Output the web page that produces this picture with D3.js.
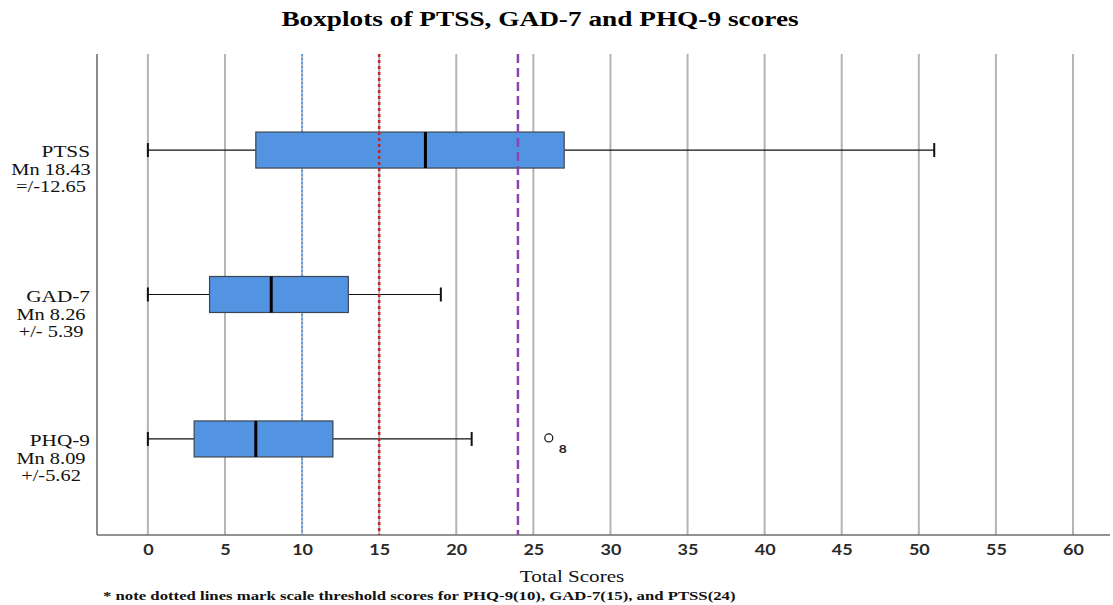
<!DOCTYPE html>
<html>
<head>
<meta charset="utf-8">
<script src="https://cdn.jsdelivr.net/npm/d3@7"></script>
<style>
  body { margin: 0; background: #fff; }
  svg { display: block; }
</style>
</head>
<body>
<div class="container"></div>
<script>
window.onload = () => {

  const scales = ['PTSS', 'GAD-7', 'PHQ-9'];
  const meanLabels = ['Mn 18.43', 'Mn 8.26', 'Mn 8.09'];
  const sdLabels = ['=/-12.65', '+/- 5.39', '+/-5.62'];
  const mins = [0, 0, 0];
  const q1s = [7, 4, 3];
  const medians = [18, 8, 7];
  const q3s = [27, 13, 12];
  const maxs = [51, 19, 21];
  const outlierScales = ['PHQ-9'];
  const outlierValues = [26];
  const outlierCases = ['8'];
  const thresholdValues = [10, 15, 24];
  const thresholdColors = ['#5f9fe6', '#c0272d', '#8e44b0'];
  const thresholdDashes = ['2,2', '3,3', '9,5'];
  const xTicks = [0, 5, 10, 15, 20, 25, 30, 35, 40, 45, 50, 55, 60];

  const width = 1113;
  const height = 605;
  const left = 97, right = 1110, top = 54, bottom = 535;
  const serif = '"Liberation Serif", "Times New Roman", serif';

  const svg = d3.select('.container')
    .append('svg')
    .attr('width', width)
    .attr('height', height);

  const x = d3.scaleLinear().domain([-3.3, 62.4]).range([left, right]);
  const y = d3.scalePoint().domain(scales).range([top, bottom]).padding(0.665);

  const boxH = 36;
  const capH = 14;

  // text that is a bit stretched sideways, like the original export
  function wideText(parent, tx, ty, sx, str) {
    return parent.append('text')
      .attr('transform', `translate(${tx},${ty}) scale(${sx},1)`)
      .text(str);
  }

  // Title
  wideText(svg, 540, 26, 1.3, 'Boxplots of PTSS, GAD-7 and PHQ-9 scores')
    .attr('text-anchor', 'middle')
    .style('font-family', serif)
    .style('font-weight', 'bold')
    .style('font-size', '21px');

  // Grid lines
  svg.append('g')
    .selectAll('line')
    .data(xTicks)
    .enter()
    .append('line')
    .attr('x1', d => x(d))
    .attr('x2', d => x(d))
    .attr('y1', top)
    .attr('y2', bottom)
    .attr('stroke', '#b4b4b4')
    .attr('stroke-width', 2);

  // Left frame line
  svg.append('line')
    .attr('x1', left).attr('x2', left)
    .attr('y1', top).attr('y2', bottom)
    .attr('stroke', '#8c8c8c')
    .attr('stroke-width', 2);

  // Bottom axis
  const axis = svg.append('g')
    .attr('transform', `translate(0, ${bottom})`)
    .call(d3.axisBottom(x).tickValues(xTicks).tickSize(0).tickPadding(9));
  axis.select('.domain').remove();
  axis.selectAll('text')
    .attr('transform', 'scale(1.2,1)')
    .style('font-family', 'Lato, "Open Sans", sans-serif')
    .style('font-size', '15px')
    .style('font-weight', 'bold')
    .attr('fill', '#2a2a2a');
  svg.append('line')
    .attr('x1', left).attr('x2', right)
    .attr('y1', bottom).attr('y2', bottom)
    .attr('stroke', '#6e6e6e')
    .attr('stroke-width', 1.5);

  // Blue threshold sits under the boxes
  const drawThreshold = i => {
    svg.append('line')
      .attr('x1', x(thresholdValues[i]))
      .attr('x2', x(thresholdValues[i]))
      .attr('y1', top)
      .attr('y2', bottom)
      .attr('stroke', thresholdColors[i])
      .attr('stroke-width', i === 0 ? 2 : 2.5)
      .attr('stroke-dasharray', thresholdDashes[i]);
  };
  drawThreshold(0);

  // Boxplots
  const g = svg.append('g');
  scales.forEach((s, i) => {
    const cy = y(s);
    g.append('line')
      .attr('x1', x(mins[i])).attr('x2', x(q1s[i]))
      .attr('y1', cy).attr('y2', cy)
      .attr('stroke', '#111').attr('stroke-width', 1.2);
    g.append('line')
      .attr('x1', x(q3s[i])).attr('x2', x(maxs[i]))
      .attr('y1', cy).attr('y2', cy)
      .attr('stroke', '#111').attr('stroke-width', 1.2);
    [mins[i], maxs[i]].forEach(v => {
      g.append('line')
        .attr('x1', x(v)).attr('x2', x(v))
        .attr('y1', cy - capH / 2).attr('y2', cy + capH / 2)
        .attr('stroke', '#111').attr('stroke-width', 2);
    });
    g.append('rect')
      .attr('x', x(q1s[i]))
      .attr('y', cy - boxH / 2)
      .attr('width', x(q3s[i]) - x(q1s[i]))
      .attr('height', boxH)
      .attr('fill', '#5294e2')
      .attr('stroke', '#3c4650')
      .attr('stroke-width', 1.2);
    g.append('line')
      .attr('x1', x(medians[i])).attr('x2', x(medians[i]))
      .attr('y1', cy - boxH / 2).attr('y2', cy + boxH / 2)
      .attr('stroke', '#000').attr('stroke-width', 3);
  });

  drawThreshold(1);
  drawThreshold(2);

  // Outliers
  outlierScales.forEach((s, i) => {
    svg.append('circle')
      .attr('cx', x(outlierValues[i]))
      .attr('cy', y(s) - 1)
      .attr('r', 4)
      .attr('fill', 'none')
      .attr('stroke', '#111')
      .attr('stroke-width', 1.2);
    wideText(svg, x(outlierValues[i]) + 10, y(s) + 14, 1.15, outlierCases[i])
      .style('font-family', 'Lato, sans-serif')
      .style('font-size', '12px')
      .style('font-weight', 'bold')
      .attr('fill', '#222');
  });

  // Category labels
  const labels = svg.append('g')
    .style('font-family', serif)
    .style('font-size', '17px')
    .attr('fill', '#111');
  scales.forEach((s, i) => {
    const cy = y(s);
    wideText(labels, 90, cy + 7, 1.25, s).attr('text-anchor', 'end');
    wideText(labels, 51, cy + 25, 1.2, meanLabels[i]).attr('text-anchor', 'middle');
    wideText(labels, 51, cy + 42, 1.2, sdLabels[i]).attr('text-anchor', 'middle');
  });

  // Axis title and note
  wideText(svg, 572, 582, 1.24, 'Total Scores')
    .attr('text-anchor', 'middle')
    .style('font-family', serif)
    .style('font-size', '17px')
    .attr('fill', '#111');

  wideText(svg, 103, 600, 1.24, '* note dotted lines mark scale threshold scores for PHQ-9(10), GAD-7(15), and PTSS(24)')
    .style('font-family', serif)
    .style('font-size', '13.5px')
    .style('font-weight', 'bold')
    .attr('fill', '#111');
};
</script>
</body>
</html>
